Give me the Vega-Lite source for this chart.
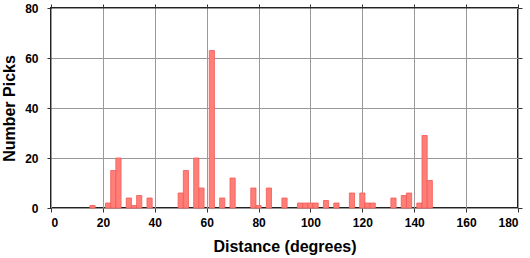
{
  "$schema": "https://vega.github.io/schema/vega-lite/v6.json",
  "autosize": {"type": "none"},
  "padding": {"left": 51, "top": 8, "right": 12, "bottom": 50},
  "width": 467,
  "height": 200,
  "background": "white",
  "config": {
    "view": {"stroke": "#222", "strokeWidth": 2},
    "axis": {
      "labelFont": "Liberation Sans",
      "labelFontWeight": "bold",
      "labelFontSize": 12,
      "labelColor": "black",
      "titleFont": "Liberation Sans",
      "titleFontWeight": "bold",
      "titleFontSize": 16,
      "titleColor": "black",
      "domain": false,
      "tickColor": "#333",
      "tickSize": 4,
      "tickWidth": 1,
      "gridColor": "#999",
      "gridWidth": 1,
      "gridOpacity": 1
    }
  },
  "data": {
    "values": [
      {"lo": 15, "hi": 17, "picks": 1},
      {"lo": 21, "hi": 23, "picks": 2},
      {"lo": 23, "hi": 25, "picks": 15},
      {"lo": 25, "hi": 27, "picks": 20},
      {"lo": 29, "hi": 31, "picks": 4},
      {"lo": 31, "hi": 33, "picks": 1},
      {"lo": 33, "hi": 35, "picks": 5},
      {"lo": 37, "hi": 39, "picks": 4},
      {"lo": 49, "hi": 51, "picks": 6},
      {"lo": 51, "hi": 53, "picks": 15},
      {"lo": 55, "hi": 57, "picks": 20},
      {"lo": 57, "hi": 59, "picks": 8},
      {"lo": 61, "hi": 63, "picks": 63},
      {"lo": 65, "hi": 67, "picks": 4},
      {"lo": 69, "hi": 71, "picks": 12},
      {"lo": 77, "hi": 79, "picks": 8},
      {"lo": 79, "hi": 81, "picks": 1},
      {"lo": 83, "hi": 85, "picks": 8},
      {"lo": 89, "hi": 91, "picks": 4},
      {"lo": 95, "hi": 97, "picks": 2},
      {"lo": 97, "hi": 99, "picks": 2},
      {"lo": 99, "hi": 101, "picks": 2},
      {"lo": 101, "hi": 103, "picks": 2},
      {"lo": 105, "hi": 107, "picks": 3},
      {"lo": 109, "hi": 111, "picks": 2},
      {"lo": 115, "hi": 117, "picks": 6},
      {"lo": 119, "hi": 121, "picks": 6},
      {"lo": 121, "hi": 123, "picks": 2},
      {"lo": 123, "hi": 125, "picks": 2},
      {"lo": 131, "hi": 133, "picks": 4},
      {"lo": 135, "hi": 137, "picks": 5},
      {"lo": 137, "hi": 139, "picks": 6},
      {"lo": 141, "hi": 143, "picks": 2},
      {"lo": 143, "hi": 145, "picks": 29},
      {"lo": 145, "hi": 147, "picks": 11}
    ]
  },
  "layer": [
    {
      "mark": {"type": "bar", "orient": "vertical", "fill": "#ff7f78", "stroke": "#f25a55", "strokeWidth": 0.8},
      "encoding": {
        "x": {
          "field": "lo", "type": "quantitative",
          "scale": {"domain": [0, 180], "nice": false, "padding": 0, "zero": false},
          "axis": {"values": [0, 20, 40, 60, 80, 100, 120, 140, 160, 180], "title": "Distance (degrees)", "labelPadding": 5, "titlePadding": 10}
        },
        "x2": {"field": "hi"},
        "y": {
          "field": "picks", "type": "quantitative",
          "scale": {"domain": [0, 80], "nice": false, "padding": 0},
          "axis": {"values": [0, 20, 40, 60, 80], "title": "Number Picks", "labelPadding": 9, "titlePadding": 7}
        },
        "y2": {"datum": 0}
      }
    },
    {
      "mark": {"type": "rule", "opacity": 0},
      "encoding": {
        "x": {
          "field": "lo", "type": "quantitative",
          "axis": {"orient": "top", "values": [0, 20, 40, 60, 80, 100, 120, 140, 160, 180], "labels": false, "grid": false, "title": null}
        },
        "y": {
          "field": "picks", "type": "quantitative",
          "axis": {"orient": "right", "values": [0, 20, 40, 60, 80], "labels": false, "grid": false, "title": null}
        }
      }
    }
  ],
  "resolve": {"axis": {"x": "independent", "y": "independent"}}
}
